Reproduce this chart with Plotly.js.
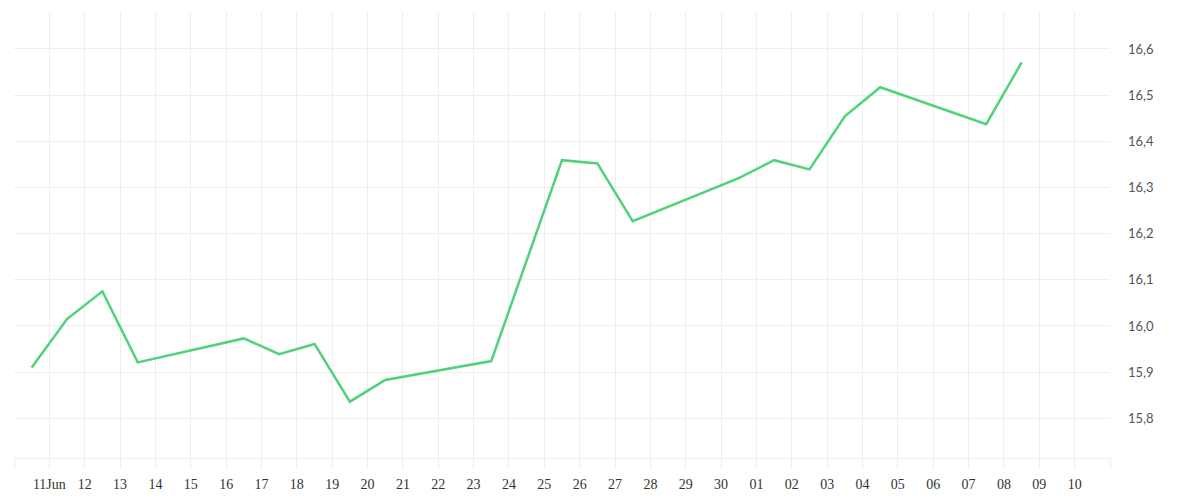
<!DOCTYPE html>
<html>
<head>
<meta charset="utf-8">
<script src="https://cdn.plot.ly/plotly-3.0.1.min.js"></script>
<style>
  html, body { margin: 0; padding: 0; background: #fff; }
  #chart { width: 1200px; height: 500px; }
</style>
</head>
<body>
<div id="chart"></div>
<script>
// daily closing values (weekends / holidays skipped)
const dates = [
  '2014-06-10', '2014-06-11', '2014-06-12', '2014-06-13',
  '2014-06-16', '2014-06-17', '2014-06-18', '2014-06-19', '2014-06-20',
  '2014-06-23', '2014-06-25', '2014-06-26', '2014-06-27',
  '2014-06-30', '2014-07-01', '2014-07-02', '2014-07-03', '2014-07-04',
  '2014-07-07', '2014-07-08'
];
const values = [
  15.910, 16.015, 16.075, 15.921,
  15.973, 15.939, 15.961, 15.836, 15.883,
  15.924, 16.359, 16.352, 16.227,
  16.320, 16.359, 16.339, 16.454, 16.517,
  16.437, 16.571
];

// one tick per day, first and last left blank
const tickStart = '2014-06-10';
const tickLabels = [
  '', '11Jun', '12', '13', '14', '15', '16', '17', '18', '19', '20',
  '21', '22', '23', '24', '25', '26', '27', '28', '29', '30',
  '01', '02', '03', '04', '05', '06', '07', '08', '09', '10', ''
];
const yTicks = [15.8, 15.9, 16.0, 16.1, 16.2, 16.3, 16.4, 16.5, 16.6];

var tickVals = [];
var d0 = new Date(tickStart + 'T00:00:00Z');
for (var i = 0; i < tickLabels.length; i++) {
  var d = new Date(d0.getTime() + i * 86400000);
  tickVals.push(d.toISOString().slice(0, 10));
}

var data = [
  {
    x: dates,
    y: values,
    type: 'scatter',
    mode: 'lines',
    xperiod: 86400000,
    xperiodalignment: 'middle',
    line: { color: 'rgb(80,210,125)', width: 2.5, shape: 'linear' },
    hoverinfo: 'x+y'
  }
];

var layout = {
  width: 1200,
  height: 500,
  paper_bgcolor: '#fff',
  plot_bgcolor: '#fff',
  separators: ',.',
  showlegend: false,
  margin: { l: 14, r: 90, t: 12, b: 42, pad: 0 },
  xaxis: {
    type: 'date',
    range: [tickVals[0], tickVals[tickVals.length - 1]],
    tickmode: 'array',
    tickvals: tickVals,
    ticktext: tickLabels,
    showgrid: true,
    gridcolor: '#eeeeee',
    gridwidth: 1,
    showline: true,
    linecolor: '#eeeeee',
    linewidth: 1,
    ticks: 'outside',
    ticklen: 10,
    tickcolor: '#eeeeee',
    tickwidth: 1,
    ticklabelstandoff: 3,
    zeroline: false,
    tickfont: { family: 'Liberation Serif, DejaVu Serif, serif', size: 14, color: '#333' }
  },
  yaxis: {
    side: 'right',
    range: [15.714, 16.68],
    tickmode: 'array',
    tickvals: yTicks,
    tickformat: '.1f',
    showgrid: true,
    gridcolor: '#eeeeee',
    gridwidth: 1,
    zeroline: false,
    showline: false,
    ticks: '',
    ticklabelstandoff: 17,
    tickfont: { family: 'Lato, Open Sans, sans-serif', size: 13, color: '#555' }
  }
};

var config = { staticPlot: true, displayModeBar: false };

Plotly.newPlot('chart', data, layout, config);
</script>
</body>
</html>
